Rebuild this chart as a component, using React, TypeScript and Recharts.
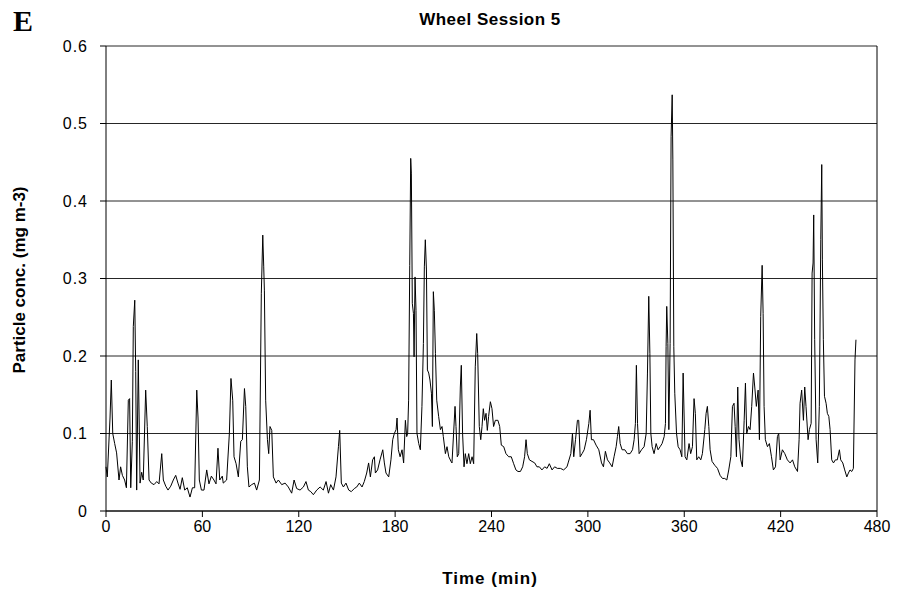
import React from 'react';
import {
  LineChart,
  Line,
  XAxis,
  YAxis,
  CartesianGrid,
  ReferenceLine
} from 'recharts';

// time (min) and particle concentration (mg m-3)
const times = [
  0, 0.8, 2.5, 3.3, 4.2, 5.4, 6.6, 8.1, 9.1, 10.2, 11.6, 12.7, 13.9, 14.7, 15.4, 16.4, 17.0, 17.9, 18.5, 19.1,
  20.1, 21.2, 22.2, 23.2, 24.7, 25.7, 26.8, 28.2, 29.9, 31.6, 33.0, 34.7, 35.7, 37.2, 38.6, 40.3, 41.9, 43.4, 44.8, 46.1,
  47.5, 49.0, 50.6, 52.3, 53.8, 55.2, 56.5, 57.3, 58.1, 59.4, 61.0, 62.7, 64.1, 65.6, 67.2, 68.5, 69.7, 70.8, 72.4,
  73.0, 75.1, 76.8, 77.8, 78.9, 79.7, 81.0, 82.4, 83.9, 84.9, 86.2, 87.0, 88.0, 89.0, 90.7, 92.4, 93.8, 95.5, 96.7, 97.6,
  98.2, 98.6, 99.4, 100.5, 101.3, 102.1, 103.2, 104.2, 105.9, 107.3, 109.4, 111.5, 113.5, 115.6, 117.1, 118.7, 120.8,
  122.9, 124.5, 126.0, 127.5, 129.1, 131.2, 133.3, 135.3, 137.0, 138.5, 139.9, 141.6, 143.2, 144.7, 145.5,
  146.5, 147.8, 149.4, 151.1, 152.7, 154.6, 156.1, 157.7, 159.4, 160.8, 162.3, 163.5, 164.6, 166.0, 167.1, 167.7,
  169.1, 170.6, 172.3, 173.3, 174.3, 176.0, 177.4, 178.5, 179.5, 180.6, 181.2, 182.0, 183.1, 184.3, 185.3, 186.4,
  187.2, 187.8, 188.4, 189.1, 189.7, 190.1, 190.7, 191.4, 191.8, 192.4, 193.0, 193.6, 194.7, 195.7, 196.7, 197.6,
  198.2, 198.8, 199.5, 200.1, 200.9, 201.7, 202.6, 203.2, 203.8, 204.4, 205.1, 205.9, 207.1, 208.2, 209.2, 210.0,
  211.3, 212.3, 213.4, 214.8,
  215.4, 216.4, 217.3, 217.9, 218.7, 219.6, 220.6, 221.2, 222.0, 222.9, 223.7, 224.7, 225.8, 226.8, 227.9, 228.9,
  229.9, 230.8, 231.4, 232.4, 233.3, 234.1, 234.9, 235.7, 236.6, 237.4, 238.2, 239.3, 240.3, 241.3, 242.4, 244.0,
  245.1, 246.1, 247.6, 249.0, 250.7, 252.3, 253.8, 255.2, 256.5, 258.0, 259.4, 260.6, 261.5, 262.3, 263.6, 265.2,
  266.9, 268.3, 269.8, 271.4, 273.1, 274.6, 276.0, 277.7, 279.3, 281.0, 282.9, 284.9, 287.0,
  287.7, 289.4, 290.4, 291.2, 292.3, 293.5, 294.3, 295.2, 296.4, 297.7, 299.1, 300.6, 301.4, 302.2, 303.5, 305.1,
  306.8, 308.5, 309.7, 310.9, 312.2, 313.6, 315.1, 316.3, 317.6, 318.4, 319.2, 320.1, 321.3, 323.0, 324.6, 326.3,
  327.8, 328.8, 329.6, 330.2, 330.9, 331.9, 333.4, 335.0, 336.3, 337.1, 337.9, 338.6, 339.2, 340.0, 341.2, 342.5,
  343.7, 345.0, 346.2, 347.5, 348.3, 348.7, 349.1, 349.8, 350.4, 351.2, 351.8, 352.5, 352.9, 353.5, 354.1, 355.2,
  356.2, 357.4, 358.5, 359.3,
  360.5, 361.6, 363.0, 364.0, 365.1, 366.1, 366.9, 367.8, 369.0, 370.3, 371.3, 372.8, 373.6, 374.4, 375.3, 376.1,
  377.3, 379.0, 380.7, 382.3, 383.8, 385.2, 386.5, 387.7, 389.0, 390.0, 391.0, 391.7, 392.5, 393.3, 394.1, 395.2,
  396.2, 397.3, 398.1, 398.9, 400.0, 401.0, 402.0, 403.1, 403.9, 404.9, 406.0, 406.8, 407.6, 408.5, 409.1, 409.7,
  410.5, 411.8, 413.0, 414.3, 415.5, 416.8, 418.0, 418.8, 419.7, 421.1, 422.6, 424.2, 425.9, 427.4, 428.8, 430.5,
  431.5,
  432.1, 433.1, 434.2, 435.0, 435.8, 437.1, 437.9, 439.0, 439.6, 440.2, 440.6, 441.2, 442.1, 443.1, 444.1, 445.0,
  445.6, 446.0, 446.6, 447.3, 448.3, 449.1, 450.0, 450.8, 451.8, 452.9, 454.1, 455.3, 456.6, 457.4, 458.7, 459.9,
  461.2, 462.2, 463.2, 464.3, 465.3, 466.3, 466.9
];

const conc = [
  0.057, 0.044, 0.12, 0.169, 0.10, 0.087, 0.075, 0.04, 0.057, 0.046, 0.04, 0.03, 0.143, 0.145, 0.03, 0.09, 0.238, 0.272, 0.18, 0.027,
  0.195, 0.036, 0.05, 0.04, 0.156, 0.109, 0.04, 0.036, 0.034, 0.038, 0.035, 0.074, 0.04, 0.032, 0.027, 0.032, 0.04, 0.046, 0.036, 0.028,
  0.043, 0.027, 0.03, 0.018, 0.03, 0.03, 0.156, 0.12, 0.04, 0.027, 0.027, 0.053, 0.035, 0.045, 0.04, 0.035, 0.081, 0.04, 0.045,
  0.036, 0.04, 0.1, 0.171, 0.143, 0.07, 0.061, 0.044, 0.09, 0.092, 0.158, 0.135, 0.057, 0.031, 0.034, 0.036, 0.027, 0.04, 0.281, 0.356,
  0.315, 0.285, 0.143, 0.092, 0.074, 0.109, 0.104, 0.044, 0.036, 0.04, 0.034, 0.036, 0.031, 0.023, 0.04, 0.029, 0.027,
  0.031, 0.038, 0.027, 0.025, 0.021, 0.027, 0.031, 0.027, 0.038, 0.023, 0.034, 0.027, 0.044, 0.083, 0.104,
  0.036, 0.031, 0.036, 0.027, 0.025, 0.029, 0.031, 0.036, 0.031, 0.038, 0.049, 0.062, 0.044, 0.066, 0.07, 0.049,
  0.053, 0.066, 0.079, 0.062, 0.049, 0.044, 0.066, 0.092, 0.1, 0.105, 0.12, 0.079, 0.07, 0.079, 0.062, 0.117,
  0.096, 0.1, 0.143, 0.317, 0.455, 0.436, 0.268, 0.255, 0.199, 0.302, 0.259, 0.1, 0.087, 0.079, 0.135, 0.216,
  0.315, 0.35, 0.311, 0.182, 0.178, 0.169, 0.152, 0.109, 0.283, 0.259, 0.203, 0.143, 0.122, 0.105, 0.109, 0.096,
  0.074, 0.083, 0.07, 0.064,
  0.062, 0.1, 0.135, 0.109, 0.07, 0.074, 0.16, 0.188, 0.1, 0.057, 0.074, 0.061, 0.074, 0.061, 0.07, 0.061,
  0.186, 0.229, 0.203, 0.109, 0.092, 0.109, 0.132, 0.117, 0.126, 0.104, 0.122, 0.141, 0.132, 0.109, 0.117, 0.117,
  0.109, 0.085, 0.083, 0.074, 0.07, 0.07, 0.061, 0.053, 0.051, 0.051, 0.057, 0.07, 0.092, 0.074, 0.066, 0.064,
  0.062, 0.057, 0.057, 0.053, 0.057, 0.055, 0.061, 0.053, 0.057, 0.055, 0.055, 0.053, 0.057,
  0.062, 0.074, 0.1, 0.07, 0.092, 0.117, 0.117, 0.07, 0.074, 0.079, 0.092, 0.113, 0.13, 0.092, 0.092, 0.085,
  0.079, 0.062, 0.057, 0.077, 0.066, 0.062, 0.057, 0.07, 0.083, 0.096, 0.109, 0.087, 0.079, 0.079, 0.074, 0.074,
  0.079, 0.092, 0.113, 0.188, 0.113, 0.074, 0.079, 0.083, 0.1, 0.178, 0.277, 0.203, 0.1, 0.083, 0.074, 0.087,
  0.079, 0.083, 0.087, 0.096, 0.113, 0.212, 0.264, 0.216, 0.105, 0.216, 0.483, 0.537, 0.453, 0.212, 0.152, 0.1,
  0.083, 0.079, 0.07, 0.178,
  0.07, 0.066, 0.087, 0.074, 0.083, 0.145, 0.126, 0.066, 0.07, 0.066, 0.074, 0.105, 0.126, 0.135, 0.109, 0.079,
  0.064, 0.059, 0.055, 0.046, 0.042, 0.042, 0.04, 0.053, 0.07, 0.135, 0.139, 0.109, 0.07, 0.16, 0.092, 0.066,
  0.057, 0.117, 0.165, 0.1, 0.109, 0.105, 0.135, 0.178, 0.16, 0.135, 0.156, 0.092, 0.251, 0.317, 0.255, 0.135,
  0.092, 0.083, 0.087, 0.07, 0.053, 0.057, 0.096, 0.1, 0.066, 0.079, 0.074, 0.066, 0.062, 0.066, 0.057, 0.051,
  0.092,
  0.139, 0.156, 0.117, 0.16, 0.135, 0.092, 0.105, 0.113, 0.307, 0.32, 0.382, 0.221, 0.092, 0.062, 0.135, 0.35,
  0.447, 0.324, 0.221, 0.148, 0.139, 0.126, 0.122, 0.105, 0.066, 0.062, 0.066, 0.066, 0.079, 0.066, 0.062, 0.053,
  0.044, 0.049, 0.053, 0.051, 0.055, 0.195, 0.221
];

const xTicks = [0, 60, 120, 180, 240, 300, 360, 420, 480];
const yTicks = [0, 0.1, 0.2, 0.3, 0.4, 0.5, 0.6];

const data = times.map((t, i) => ({ t, v: conc[i] }));

const font = '"Liberation Sans", Arial, sans-serif';
const tickStyle = { fill: '#000', fontSize: 16, fontFamily: font };

export default function App() {
  return (
    <div style={{ position: 'absolute', left: 0, top: 0, width: 899, height: 601, background: '#fff' }}>
      <LineChart
        width={899}
        height={601}
        data={data}
        margin={{ top: 46, right: 22, bottom: 0, left: 0 }}
      >
        <CartesianGrid vertical={false} stroke="#000" strokeOpacity={0.85} />
        <XAxis
          dataKey="t"
          type="number"
          domain={[0, 480]}
          ticks={xTicks}
          height={90}
          stroke="#000"
          tickSize={6}
          tickMargin={4}
          tick={tickStyle}
          interval={0}
        />
        <YAxis
          type="number"
          domain={[0, 0.6]}
          ticks={yTicks}
          width={106}
          stroke="#000"
          tickSize={6}
          tickMargin={12}
          tick={{ ...tickStyle, letterSpacing: 1 }}
          interval={0}
          tickFormatter={(v: number) => (v === 0 ? '0' : v.toFixed(1))}
        />
        <ReferenceLine x={480} stroke="#000" />
        <Line
          type="linear"
          dataKey="v"
          stroke="#000"
          strokeWidth={1}
          dot={false}
          isAnimationActive={false}
        />
      </LineChart>

      <svg
        width={899}
        height={601}
        style={{ position: 'absolute', left: 0, top: 0, pointerEvents: 'none' }}
      >
        <text x={13} y={31} fontFamily='"Liberation Serif", "Times New Roman", serif' fontWeight="bold" fontSize={30}>
          E
        </text>
        <text x={490} y={25} textAnchor="middle" fontFamily={font} fontWeight="bold" fontSize={17} letterSpacing={0.5}>
          Wheel Session 5
        </text>
        <text x={490} y={584} textAnchor="middle" fontFamily={font} fontWeight="bold" fontSize={17} letterSpacing={1}>
          Time (min)
        </text>
        <text
          x={0}
          y={0}
          transform="translate(25,280) rotate(-90)"
          textAnchor="middle"
          fontFamily={font}
          fontWeight="bold"
          fontSize={17}
        >
          Particle conc. (mg m-3)
        </text>
      </svg>
    </div>
  );
}
